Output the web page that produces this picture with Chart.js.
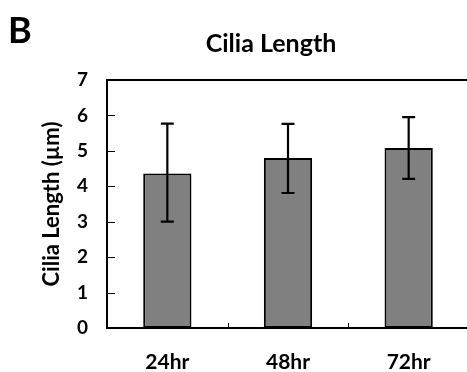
<!DOCTYPE html>
<html>
<head>
<meta charset="utf-8">
<script src="https://cdn.jsdelivr.net/npm/chart.js@4.4.0/dist/chart.umd.min.js"></script>
<style>
html,body{margin:0;padding:0;background:#fff;overflow:hidden;}
#wrap{width:470px;height:372px;}
</style>
</head>
<body>
<div id="wrap"><canvas id="c" width="470" height="372"></canvas></div>
<script>
const panelLabel = "B";
const chartTitle = "Cilia Length";
const yAxisTitle = "Cilia Length (\u00b5m)";
const categories = ["24hr", "48hr", "72hr"];
const meanLength = [4.36, 4.80, 5.08];
const errUpper = [1.41, 0.96, 0.87];
const errLower = [1.36, 0.99, 0.87];
const yMin = 0, yMax = 7, yStep = 1;

const FONT = "Lato, 'DejaVu Sans', sans-serif";

const decorPlugin = {
  id: 'decor',
  afterDatasetsDraw(chart) {
    const ctx = chart.ctx;
    const x = chart.scales.x, y = chart.scales.y;
    const area = chart.chartArea;
    ctx.save();
    ctx.strokeStyle = '#000';
    ctx.lineWidth = 2.2;
    // error bars
    meanLength.forEach((v, i) => {
      const px = x.getPixelForValue(i);
      const top = y.getPixelForValue(v + errUpper[i]);
      const bot = y.getPixelForValue(v - errLower[i]);
      ctx.beginPath();
      ctx.moveTo(px, top); ctx.lineTo(px, bot);
      ctx.moveTo(px - 6.5, top); ctx.lineTo(px + 6.5, top);
      ctx.moveTo(px - 6.5, bot); ctx.lineTo(px + 6.5, bot);
      ctx.stroke();
    });
    // inward y tick marks
    ctx.lineWidth = 1;
    y.ticks.forEach(t => {
      if (t.value <= yMin || t.value >= yMax) return;
      const py = Math.round(y.getPixelForValue(t.value)) + 0.5;
      ctx.beginPath();
      ctx.moveTo(area.left, py); ctx.lineTo(area.left + 8, py);
      ctx.stroke();
    });
    // x tick marks at category boundaries
    for (let i = 0; i < categories.length - 1; i++) {
      const px = Math.round((x.getPixelForValue(i) + x.getPixelForValue(i + 1)) / 2) + 0.5;
      ctx.beginPath();
      ctx.moveTo(px, area.bottom); ctx.lineTo(px, area.bottom - 5);
      ctx.stroke();
    }
    // top border
    ctx.lineWidth = 2;
    ctx.beginPath();
    ctx.moveTo(area.left - 1, area.top); ctx.lineTo(area.right + 2, area.top);
    ctx.stroke();
    // texts
    ctx.fillStyle = '#000';
    ctx.textBaseline = 'alphabetic';
    ctx.textAlign = 'left';
    ctx.font = "bold 36px " + FONT;
    ctx.fillText(panelLabel, 8, 43);
    ctx.textAlign = 'center';
    ctx.font = "bold 25px " + FONT;
    ctx.fillText(chartTitle, 271, 52);
    ctx.restore();
  }
};

new Chart(document.getElementById('c'), {
  type: 'bar',
  data: {
    labels: categories,
    datasets: [{
      data: meanLength,
      backgroundColor: '#808080',
      borderColor: '#000',
      borderWidth: 2,
      borderSkipped: false,
      barPercentage: 0.4,
      categoryPercentage: 1.0
    }]
  },
  options: {
    responsive: false,
    animation: false,
    layout: { padding: { top: 80, right: 1, left: 0, bottom: 0 } },
    plugins: { legend: { display: false }, title: { display: false }, tooltip: { enabled: false } },
    scales: {
      x: {
        offset: true,
        grid: { display: false, drawTicks: false },
        border: { display: true, color: '#000', width: 2 },
        ticks: { color: '#000', font: { family: FONT, size: 21, weight: 'bold' }, padding: 22 },
        afterFit(s) { s.height = 44; }
      },
      y: {
        min: yMin, max: yMax,
        grid: { display: false, drawTicks: false },
        border: { display: true, color: '#000', width: 2 },
        ticks: { stepSize: yStep, color: '#000', font: { family: FONT, size: 19, weight: 'bold' }, padding: 19 },
        title: { display: true, text: yAxisTitle, color: '#000', font: { family: FONT, size: 22, weight: 'bold' }, padding: { top: 39, bottom: 0 } },
        afterFit(s) { s.width = 107; }
      }
    }
  },
  plugins: [decorPlugin]
});
</script>
</body>
</html>
